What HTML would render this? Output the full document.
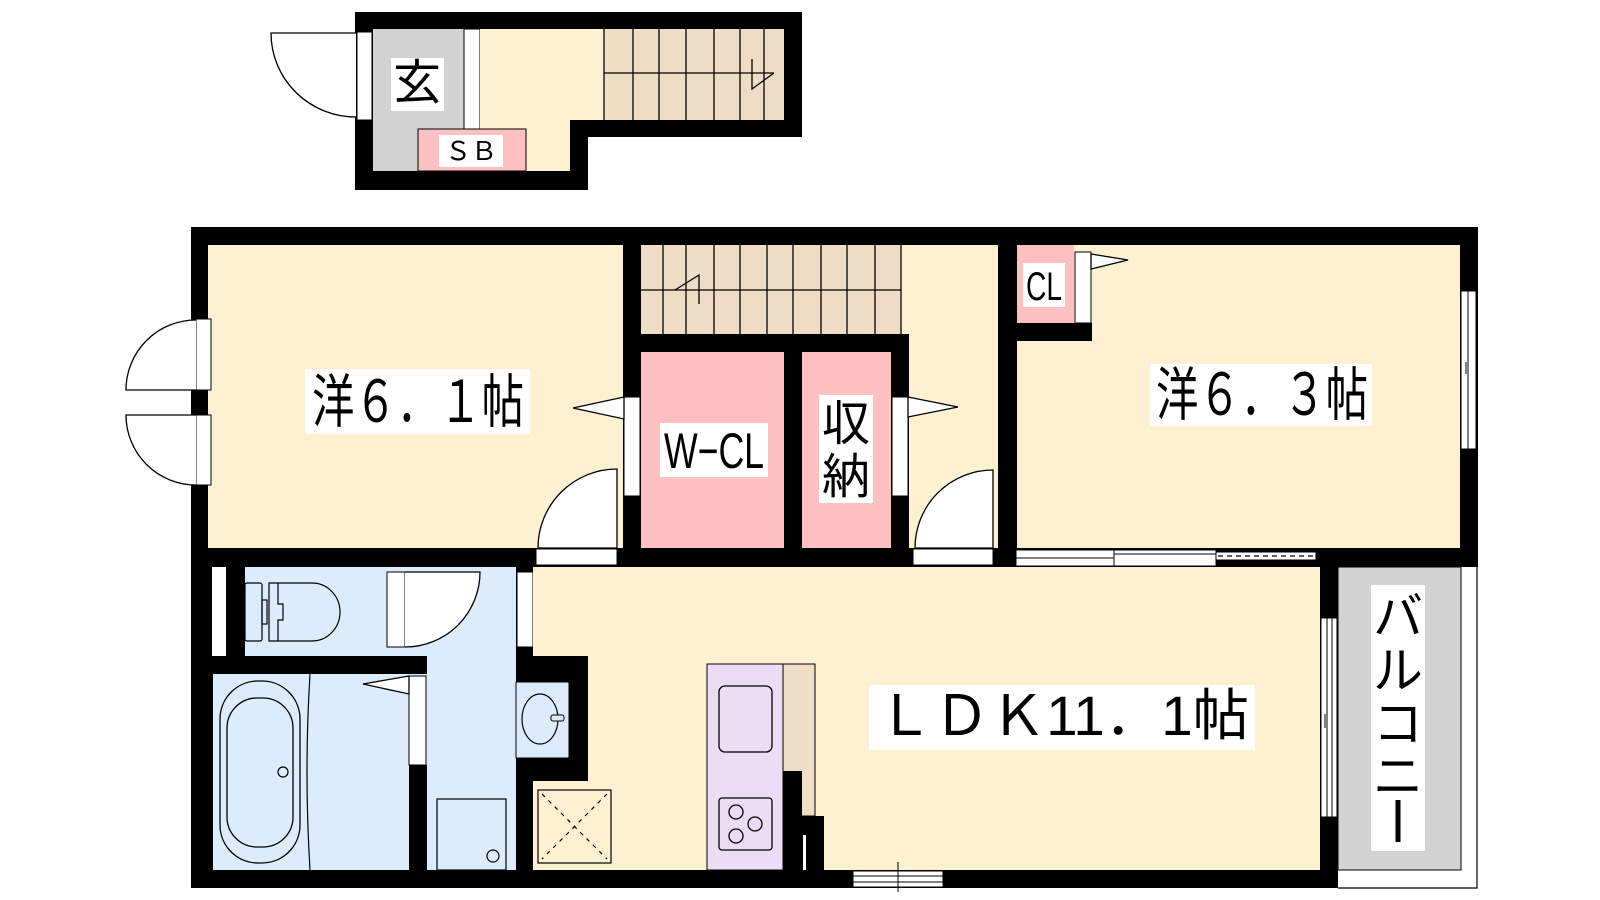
<!DOCTYPE html>
<html><head><meta charset="utf-8"><style>
html,body{margin:0;padding:0;background:#fff;}
svg{display:block;}
text{font-family:"Liberation Sans","Noto Sans CJK JP",sans-serif;fill:#000;}
</style></head><body>
<svg width="1600" height="900" viewBox="0 0 1600 900" xmlns="http://www.w3.org/2000/svg">
<!-- ENTRANCE -->
<rect x="355" y="12" width="447" height="178" fill="#000"/>
<rect x="588" y="137" width="214" height="53" fill="#fff"/>
<rect x="373" y="29" width="91" height="142" fill="#d3d3d3"/>
<rect x="464" y="29" width="16" height="100" fill="#fff" stroke="#000" stroke-width="1"/>
<rect x="480" y="29" width="124" height="91" fill="#fef1d2"/>
<rect x="480" y="120" width="90" height="51" fill="#fef1d2"/>
<rect x="604" y="29" width="180" height="91" fill="#efdec5"/>
<g stroke="#000" stroke-width="1.3" fill="none">
<line x1="604" y1="29" x2="604" y2="120"/><line x1="633" y1="29" x2="633" y2="120"/><line x1="659" y1="29" x2="659" y2="120"/><line x1="686" y1="29" x2="686" y2="120"/><line x1="714" y1="29" x2="714" y2="120"/><line x1="740" y1="29" x2="740" y2="120"/><line x1="764" y1="29" x2="764" y2="120"/>
<line x1="604" y1="73" x2="774" y2="73"/>
<polyline points="752,59 752,89 774,73"/>
</g>
<rect x="418" y="129" width="108" height="42" fill="#fec0c0" stroke="#000" stroke-width="1"/>
<rect x="439" y="135" width="64" height="32" fill="#fff"/>
<text x="471" y="160" font-size="26" text-anchor="middle">ＳＢ</text>
<rect x="391" y="58" width="53" height="53" fill="#fff"/>
<text x="417" y="99" font-size="48" text-anchor="middle">玄</text>
<rect x="357" y="32" width="15" height="88" fill="#fff" stroke="#000" stroke-width="1"/>
<path d="M356 33 L271 33 A85 84 0 0 0 356 117" fill="#fff" stroke="#000" stroke-width="1.3"/>

<!-- MAIN OUTER -->
<rect x="191" y="227" width="1287" height="661" fill="#000"/>
<rect x="208" y="245" width="415" height="303" fill="#fef1d2"/>
<rect x="641" y="245" width="268" height="89" fill="#fef1d2"/>
<rect x="641" y="245" width="260" height="89" fill="#efdec5"/>
<g stroke="#000" stroke-width="1.3" fill="none">
<line x1="663" y1="245" x2="663" y2="334"/><line x1="686" y1="245" x2="686" y2="334"/><line x1="714" y1="245" x2="714" y2="334"/><line x1="740" y1="245" x2="740" y2="334"/><line x1="767" y1="245" x2="767" y2="334"/><line x1="793" y1="245" x2="793" y2="334"/><line x1="821" y1="245" x2="821" y2="334"/><line x1="847" y1="245" x2="847" y2="334"/><line x1="875" y1="245" x2="875" y2="334"/><line x1="901" y1="245" x2="901" y2="334"/>
<line x1="641" y1="290" x2="901" y2="290"/>
<polyline points="699,304 699,275 675,290"/>
</g>
<rect x="641" y="352" width="143" height="196" fill="#fec0c0"/>
<rect x="802" y="352" width="89" height="196" fill="#fec0c0"/>
<rect x="909" y="245" width="89" height="303" fill="#fef1d2"/>
<rect x="1017" y="245" width="443" height="303" fill="#fef1d2"/>
<rect x="998" y="323" width="94" height="18" fill="#000"/>
<rect x="1017" y="245" width="57" height="78" fill="#fec0c0"/>
<rect x="1075" y="252" width="16" height="71" fill="#fff" stroke="#000" stroke-width="1"/>
<polygon points="1091,254 1128,260 1091,269" fill="#fff" stroke="#000" stroke-width="1.3"/>
<rect x="1023" y="263" width="42" height="44" fill="#fff"/>
<text x="1044" y="300" font-size="40" text-anchor="middle" textLength="36" lengthAdjust="spacingAndGlyphs">CL</text>
<rect x="1461" y="291" width="15" height="158" fill="#fff" stroke="#000" stroke-width="1"/>
<line x1="1468" y1="291" x2="1468" y2="449" stroke="#000" stroke-width="1"/>
<line x1="1466" y1="362" x2="1466" y2="374" stroke="#000" stroke-width="1"/>
<rect x="196" y="319" width="15" height="71" fill="#fff" stroke="#000" stroke-width="1"/>
<rect x="196" y="415" width="15" height="70" fill="#fff" stroke="#000" stroke-width="1"/>
<path d="M196 390 L126 390 A70 70 0 0 1 196 320" fill="#fff" stroke="#000" stroke-width="1.3"/>
<path d="M196 415 L126 415 A70 70 0 0 0 196 485" fill="#fff" stroke="#000" stroke-width="1.3"/>
<rect x="624" y="397" width="16" height="99" fill="#fff" stroke="#000" stroke-width="1"/>
<polygon points="624,397 573,408 624,419" fill="#fff" stroke="#000" stroke-width="1.3"/>
<rect x="892" y="397" width="16" height="99" fill="#fff" stroke="#000" stroke-width="1"/>
<polygon points="908,397 958,407 908,417" fill="#fff" stroke="#000" stroke-width="1.3"/>
<rect x="536" y="549" width="81" height="16" fill="#fff" stroke="#000" stroke-width="1"/>
<path d="M617 548 L617 469 A79 79 0 0 0 538 548 Z" fill="#fff" stroke="#000" stroke-width="1.3"/>
<rect x="913" y="549" width="80" height="16" fill="#fff" stroke="#000" stroke-width="1"/>
<path d="M993 548 L993 470 A78 78 0 0 0 915 548 Z" fill="#fff" stroke="#000" stroke-width="1.3"/>
<rect x="1016" y="550" width="98" height="16" fill="#fff" stroke="#000" stroke-width="1"/>
<line x1="1016" y1="558" x2="1114" y2="558" stroke="#000" stroke-width="1"/>
<rect x="1114" y="550" width="102" height="16" fill="#fff" stroke="#000" stroke-width="1"/>
<line x1="1114" y1="554" x2="1216" y2="554" stroke="#000" stroke-width="1"/>
<rect x="1216" y="552" width="100" height="8" fill="#fff" stroke="#000" stroke-width="1"/>
<line x1="1218" y1="556" x2="1316" y2="556" stroke="#000" stroke-width="1.2" stroke-dasharray="5,4"/>

<rect x="212" y="567" width="14" height="89" fill="#fff"/>
<rect x="245" y="567" width="142" height="89" fill="#dcecfc"/>
<rect x="405" y="567" width="111" height="303" fill="#dcecfc"/>
<rect x="387" y="567" width="18" height="89" fill="#dcecfc"/>
<rect x="213" y="674" width="196" height="196" fill="#dcecfc"/>
<g stroke="#000" stroke-width="1.2" fill="none">
<rect x="245" y="583" width="17" height="58" rx="2"/>
<rect x="262" y="600" width="5" height="24"/>
<path d="M269 583 L312 583 A28 29 0 0 1 312 641 L269 641 Z"/>
<path d="M278 583 L278 604 L283 604 L283 620 L278 620 L278 641"/>
</g>
<rect x="387" y="572" width="18" height="75" fill="#fff" stroke="#000" stroke-width="1"/>
<path d="M405 572 L480 572 A75 75 0 0 1 405 647" fill="#fff" stroke="#000" stroke-width="1.3"/>
<rect x="517" y="572" width="16" height="75" fill="#fff" stroke="#000" stroke-width="1"/>
<path d="M533 572 L608 572 A75 75 0 0 1 533 647" fill="#fff" stroke="#000" stroke-width="1.3"/>
<rect x="191" y="656" width="236" height="18" fill="#000"/>
<path d="M310 674 Q304 772 310 870" stroke="#000" stroke-width="1.2" fill="none"/>
<rect x="220" y="681" width="80" height="182" rx="38" fill="none" stroke="#000" stroke-width="1.3"/>
<rect x="227" y="698" width="66" height="149" rx="30" fill="none" stroke="#000" stroke-width="1.3"/>
<circle cx="283" cy="772" r="5" fill="none" stroke="#000" stroke-width="1.2"/>
<rect x="409" y="676" width="17" height="89" fill="#fff" stroke="#000" stroke-width="1"/>
<rect x="409" y="765" width="18" height="105" fill="#000"/>
<polygon points="409,676 363,684 409,694" fill="#fff" stroke="#000" stroke-width="1.3"/>
<rect x="437" y="799" width="69" height="71" fill="#dcecfc" stroke="#000" stroke-width="1.2"/>
<circle cx="493" cy="856" r="6" fill="none" stroke="#000" stroke-width="1.2"/>

<rect x="533" y="567" width="788" height="303" fill="#fef1d2"/>
<rect x="516" y="656" width="72" height="125" fill="#000"/>
<rect x="516" y="682" width="53" height="76" fill="#dcecfc" stroke="#000" stroke-width="1"/>
<ellipse cx="540" cy="719" rx="18" ry="25" fill="none" stroke="#000" stroke-width="1.2"/>
<rect x="551" y="715" width="13" height="6" rx="2" fill="#dcecfc" stroke="#000" stroke-width="1"/>
<rect x="516" y="781" width="17" height="89" fill="#000"/>
<rect x="538" y="790" width="73" height="73" fill="#fef1d2" stroke="#000" stroke-width="1.2"/>
<g stroke="#000" stroke-width="1.2" stroke-dasharray="4,5"><line x1="542" y1="794" x2="607" y2="859"/><line x1="607" y1="794" x2="542" y2="859"/></g>
<rect x="783" y="664" width="32" height="152" fill="#efdec5" stroke="#000" stroke-width="1"/>
<rect x="707" y="664" width="76" height="206" fill="#ecdcf4" stroke="#000" stroke-width="1"/>
<rect x="719" y="686" width="53" height="66" rx="6" fill="none" stroke="#000" stroke-width="1.3"/>
<rect x="719" y="798" width="53" height="52" rx="3" fill="none" stroke="#000" stroke-width="1.3"/>
<g fill="none" stroke="#000" stroke-width="1.3">
<circle cx="736" cy="812" r="7"/><circle cx="755" cy="824" r="7"/><circle cx="736" cy="836" r="7"/>
</g>
<rect x="783" y="771" width="19" height="99" fill="#000"/>
<rect x="802" y="816" width="22" height="54" fill="#000"/>
<rect x="803" y="835" width="3" height="35" fill="#fff"/>
<rect x="853" y="871" width="90" height="16" fill="#fff" stroke="#000" stroke-width="1"/>
<line x1="853" y1="876" x2="943" y2="876" stroke="#000" stroke-width="1"/>
<line x1="853" y1="882" x2="943" y2="882" stroke="#000" stroke-width="1"/>
<line x1="898" y1="862" x2="898" y2="892" stroke="#000" stroke-width="1"/>

<rect x="1338" y="567" width="140" height="322" fill="#fff"/>
<rect x="1338" y="567" width="123" height="303" fill="#d3d3d3" stroke="#000" stroke-width="1"/>
<rect x="1318" y="549" width="160" height="18" fill="#000"/>
<rect x="1320" y="549" width="18" height="339" fill="#000"/>
<polyline points="1338,888 1477,888 1477,567" fill="none" stroke="#000" stroke-width="1.2"/>
<rect x="1321" y="618" width="16" height="199" fill="#fff" stroke="#000" stroke-width="1"/>
<line x1="1327" y1="618" x2="1327" y2="817" stroke="#000" stroke-width="1"/>
<line x1="1332" y1="618" x2="1332" y2="817" stroke="#000" stroke-width="1"/>
<line x1="1325" y1="714" x2="1325" y2="728" stroke="#000" stroke-width="1"/>
<rect x="1371" y="585" width="54" height="266" fill="#fff"/>
<text font-size="50" text-anchor="middle">
<tspan x="1398" y="634">バ</tspan><tspan x="1398" y="688">ル</tspan><tspan x="1398" y="741">コ</tspan><tspan x="1398" y="794">ニ</tspan>
</text>
<line x1="1398" y1="800" x2="1398" y2="842" stroke="#000" stroke-width="5"/>

<rect x="305" y="369" width="225" height="65" fill="#fff"/>
<text x="312" y="422" font-size="58" textLength="212" lengthAdjust="spacingAndGlyphs">洋６．１帖</text>
<rect x="1150" y="364" width="222" height="62" fill="#fff"/>
<text x="1156" y="415" font-size="58" textLength="212" lengthAdjust="spacingAndGlyphs">洋６．３帖</text>
<rect x="660" y="423" width="108" height="54" fill="#fff"/>
<text x="664" y="468" font-size="50" textLength="100" lengthAdjust="spacingAndGlyphs">W−CL</text>
<rect x="819" y="395" width="54" height="108" fill="#fff"/>
<text font-size="48" text-anchor="middle"><tspan x="846" y="440">収</tspan><tspan x="846" y="493">納</tspan></text>
<rect x="869" y="685" width="386" height="65" fill="#fff"/>
<text x="877" y="735" font-size="56" textLength="372" lengthAdjust="spacingAndGlyphs">ＬＤＫ11．1帖</text>
</svg>
</body></html>
